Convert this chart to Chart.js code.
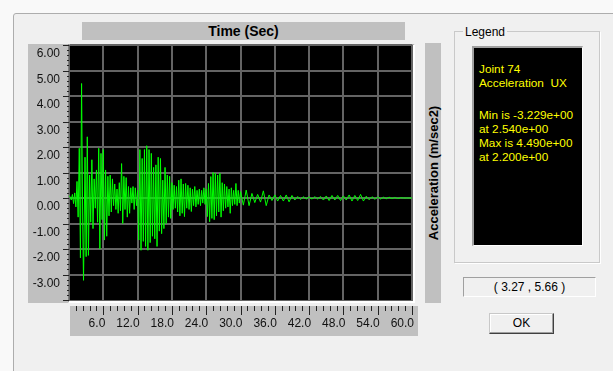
<!DOCTYPE html>
<html>
<head>
<meta charset="utf-8">
<title>Joint 74 Acceleration UX</title>
<script src="https://cdn.jsdelivr.net/npm/chart.js@4.4.1/dist/chart.umd.min.js"></script>
<style>
  html, body { margin: 0; padding: 0; }
  body {
    width: 613px; height: 371px; overflow: hidden; position: relative;
    background: #f9f9f9;
    font-family: "Liberation Sans", Arial, sans-serif; font-size: 12px; color: #000;
  }
  .abs { position: absolute; }
  #frame { left: 13px; top: 13px; width: 640px; height: 400px; border: 1px solid #adadad; border-radius: 3px; background: #f0f0f0; }
  #titleBar { left: 82px; top: 22px; width: 323px; height: 18px; background: #c0c0c0; text-align: center; font-weight: bold; font-size: 14px; line-height: 18px; }
  #yStrip { left: 28px; top: 44px; width: 41px; height: 259px; background: #c0c0c0; }
  #xStrip { left: 70px; top: 306px; width: 348px; height: 30px; background: #c0c0c0; }
  #plotBevel { left: 68px; top: 44px; width: 344px; height: 256px; background: #000; border-top: 1px solid #a0a0a0; border-left: 1px solid #808080; border-right: 2px solid #fff; border-bottom: 2px solid #fff; }
  #yTitle { left: 425px; top: 43px; width: 16px; height: 260px; background: #c0c0c0; }
  #yTitle span { position: absolute; left: 50%; top: 50%; transform: translate(-50%, -50%) rotate(-90deg); white-space: nowrap; font-weight: bold; font-size: 13px; }
  #legendBox { left: 454px; top: 31px; width: 144px; height: 230px; border: 1px solid #c9c9c9; box-shadow: 1px 1px 0 #fff; }
  #legendCap { left: 463px; top: 25px; padding: 0 2px; background: #f0f0f0; line-height: 14px; }
  #legendText { left: 472px; top: 46px; width: 108px; height: 197px; background: #000; border-top: 2px solid #a0a0a0; border-left: 2px solid #a0a0a0; border-right: 1px solid #fff; border-bottom: 1px solid #fff; color: #ffff00; font-size: 11.8px; line-height: 14px; }
  #legendText .blk { position: absolute; left: 5px; white-space: pre; }
  #coordBox { left: 463px; top: 277px; width: 131px; height: 18px; border-top: 1px solid #a0a0a0; border-left: 1px solid #a0a0a0; border-right: 1px solid #fff; border-bottom: 1px solid #fff; text-align: center; line-height: 18px; }
  #okBtn { left: 489px; top: 313px; width: 63px; height: 19px; background: #f0f0f0; border: 1px solid; border-color: #c8c8c8 #404040 #404040 #c8c8c8; box-shadow: inset -1px -1px #a0a0a0, inset 1px 1px #fff; text-align: center; line-height: 19px; }
  #plotWrap { left: 0; top: 0; width: 445px; height: 371px; z-index: 2; }
</style>
</head>
<body>
<div id="frame" class="abs"></div>
<div id="titleBar" class="abs">Time (Sec)</div>
<div id="yStrip" class="abs"></div>
<div id="xStrip" class="abs"></div>
<div id="plotBevel" class="abs"></div>
<div id="yTitle" class="abs"><span>Acceleration (m/sec2)</span></div>
<div id="legendBox" class="abs"></div>
<div id="legendCap" class="abs">Legend</div>
<div id="legendText" class="abs">
  <div class="blk" style="top:14px">Joint 74
Acceleration  UX</div>
  <div class="blk" style="top:60px">Min is -3.229e+00
at 2.540e+00
Max is 4.490e+00
at 2.200e+00</div>
</div>
<div id="coordBox" class="abs">( 3.27 , 5.66 )</div>
<div id="okBtn" class="abs">OK</div>
<div id="plotWrap" class="abs"><canvas id="thChart"></canvas></div>

<script>
// time history (sec, m/sec2)
const timeSec = [
  0.0, 0.2, 0.4, 0.6, 0.8, 1.0, 1.2, 1.4, 1.6, 1.8,
  2.0, 2.2, 2.4, 2.54, 2.8, 3.0, 3.2, 3.4, 3.6, 3.8,
  4.0, 4.2, 4.4, 4.6, 4.8, 5.0, 5.2, 5.4, 5.6, 5.8,
  6.0, 6.2, 6.4, 6.6, 6.8, 7.0, 7.2, 7.4, 7.6, 7.8,
  8.0, 8.2, 8.4, 8.6, 8.8, 9.0, 9.2, 9.4, 9.6, 9.8,
  10.0, 10.2, 10.4, 10.6, 10.8, 11.0, 11.2, 11.4, 11.6, 11.8,
  12.0, 12.2, 12.4, 12.6, 12.8, 13.0, 13.2, 13.4, 13.6, 13.8,
  14.0, 14.2, 14.4, 14.6, 14.8, 15.0, 15.2, 15.4, 15.6, 15.8,
  16.0, 16.2, 16.4, 16.6, 16.8, 17.0, 17.2, 17.4, 17.6, 17.8,
  18.0, 18.2, 18.4, 18.6, 18.8, 19.0, 19.2, 19.4, 19.6, 19.8,
  20.0, 20.2, 20.4, 20.6, 20.8, 21.0, 21.2, 21.4, 21.6, 21.8,
  22.0, 22.2, 22.4, 22.6, 22.8, 23.0, 23.2, 23.4, 23.6, 23.8,
  24.0, 24.2, 24.4, 24.6, 24.8, 25.0, 25.2, 25.4, 25.6, 25.8,
  26.0, 26.2, 26.4, 26.6, 26.8, 27.0, 27.2, 27.4, 27.6, 27.8,
  28.0, 28.2, 28.4, 28.6, 28.8, 29.0, 29.2, 29.4, 29.6, 29.8,
  30.0, 30.5, 31.0, 31.5, 32.0, 32.5, 33.0, 33.5, 34.0, 34.5,
  35.0, 35.5, 36.0, 36.5, 37.0, 37.5, 38.0, 38.5, 39.0, 39.5,
  40.0, 40.5, 41.0, 41.5, 42.0, 42.5, 43.0, 43.5, 44.0, 44.5,
  45.0, 45.5, 46.0, 46.5, 47.0, 47.5, 48.0, 48.5, 49.0, 49.5,
  50.0, 50.5, 51.0, 51.5, 52.0, 52.5, 53.0, 53.5, 54.0, 54.5,
  55.0, 55.5, 56.0, 56.5, 57.0, 57.5, 58.0, 58.5, 59.0, 59.5, 60.0
];
const accelUX = [
  0.10, 0.04, -0.08, 0.14, -0.22, 0.20, -0.35, 0.65, -0.75, 1.95,
  -2.35, 4.49, -1.10, -3.229, 1.60, -2.30, 2.40, -2.25, 0.90, -0.95,
  1.50, -1.20, 0.75, -0.40, 1.10, -0.95, 1.95, -2.00, 1.75, -0.85,
  1.90, -1.65, 1.10, -1.50, 0.85, -0.70, 0.90, -0.55, 0.75, -0.30,
  0.55, -0.45, 0.35, -0.60, 0.60, -0.50, 1.35, -1.00, 0.85, -0.45,
  0.80, -0.75, 0.45, -0.60, 0.40, -0.20, 0.45, -0.45, 0.40, -0.30,
  0.30, -1.65, 1.90, -2.05, 1.55, -1.70, 1.90, -1.90, 2.05, -2.05,
  1.90, -1.75, 1.75, -1.50, 1.20, -1.60, 1.30, -1.90, 1.60, -1.30,
  1.55, -1.40, 0.70, -1.20, 1.20, -1.00, 0.90, -0.75, 0.85, -0.80,
  0.60, -0.45, 0.50, -0.40, 0.45, -0.55, 0.70, -0.70, 0.75, -0.60,
  0.55, -0.73, 0.57, -0.40, 0.50, -0.45, 0.40, -0.53, 0.35, -0.30,
  0.45, -0.35, 0.30, -0.25, 0.35, -0.30, 0.30, -0.20, 0.40, -0.25,
  0.35, -0.73, 0.57, -0.93, 0.84, -0.80, 1.00, -0.85, 0.97, -0.70,
  0.90, -0.55, 0.97, -0.75, 0.60, -0.50, 0.55, -0.40, 0.45, -0.35,
  0.35, -0.60, 0.40, -0.30, 0.30, -0.25, 0.57, -0.30, 0.30, -0.20,
  0.25, -0.28, 0.31, -0.30, 0.18, -0.18, 0.14, -0.16, 0.28, -0.30,
  0.12, -0.10, 0.12, -0.12, 0.10, -0.12, 0.12, -0.15, 0.10, -0.08,
  0.06, -0.06, 0.05, -0.04, 0.04, -0.04, 0.05, -0.04, 0.06, -0.08,
  0.08, -0.10, 0.10, -0.08, 0.10, -0.10, 0.08, -0.08, 0.12, -0.12,
  0.10, -0.10, 0.14, -0.12, 0.07, -0.07, 0.05, -0.05, 0.04, -0.04,
  0.03, -0.03, 0.03, -0.02, 0.02, -0.02, 0.01, 0.00, 0.00, 0.00, 0.00
];

// axis ticks
const xTickValues = [6, 12, 18, 24, 30, 36, 42, 48, 54, 60];
const yTickValues = [6, 5, 4, 3, 2, 1, 0, -1, -2, -3];
const xMinorStep = 1.2;
const yMinorStep = 0.2;

const tickFont = { family: '"Liberation Sans", Arial, sans-serif', size: 12 };

// black plot area + the little tick marks on the grey strips
const sapTicks = {
  id: 'sapTicks',
  beforeDraw(chart) {
    const { ctx, chartArea: a } = chart;
    ctx.save();
    ctx.fillStyle = '#000';
    ctx.fillRect(a.left, a.top, a.right - a.left, a.bottom - a.top);
    ctx.restore();
  },
  afterDraw(chart) {
    const { ctx, chartArea: a, scales } = chart;
    ctx.save();
    ctx.strokeStyle = '#222';
    ctx.lineWidth = 1;
    ctx.beginPath();
    // x ticks
    for (let i = 1; i * xMinorStep <= scales.x.max + 0.001; i++) {
      const px = Math.round(scales.x.getPixelForValue(i * xMinorStep)) + 0.5;
      const len = (i % 5 === 0) ? 9 : 5;
      ctx.moveTo(px, a.bottom + 6);
      ctx.lineTo(px, a.bottom + 6 + len);
    }
    // y ticks
    for (let i = 0; scales.y.min + i * yMinorStep <= scales.y.max + 0.001; i++) {
      const py = Math.round(scales.y.getPixelForValue(scales.y.min + i * yMinorStep)) + 0.5;
      const len = (i % 5 === 0) ? 6 : 2;
      ctx.moveTo(a.left - len, py);
      ctx.lineTo(a.left, py);
    }
    ctx.stroke();
    ctx.restore();
  }
};

const ctx = document.getElementById('thChart').getContext('2d');

const thChart = new Chart(ctx, {
  type: 'line',
  data: {
    datasets: [{
      data: timeSec.map((t, i) => ({ x: t, y: accelUX[i] })),
      borderColor: '#00ff00',
      borderWidth: 1,
      pointRadius: 0,
      tension: 0,
      fill: false
    }]
  },
  options: {
    responsive: true,
    maintainAspectRatio: false,
    animation: false,
    events: [],
    layout: { padding: { left: 0, top: 45, right: 33, bottom: 0 } },
    plugins: {
      legend: { display: false },
      tooltip: { enabled: false }
    },
    scales: {
      x: {
        type: 'linear',
        position: 'bottom',
        min: 0,
        max: 60,
        afterBuildTicks: ax => { ax.ticks = xTickValues.map(v => ({ value: v })); },
        afterFit: ax => { ax.height = 71; },
        grid: { color: '#646464', lineWidth: 2, drawTicks: false },
        border: { color: '#646464' },
        ticks: {
          align: 'end',
          labelOffset: 2,
          padding: 16,
          autoSkip: false,
          maxRotation: 0,
          color: '#111',
          font: tickFont,
          callback: v => Number(v).toFixed(1)
        }
      },
      y: {
        type: 'linear',
        min: -4,
        max: 6,
        afterBuildTicks: ax => { ax.ticks = yTickValues.map(v => ({ value: v })); },
        afterFit: ax => { ax.width = 69; },
        grid: { color: '#646464', lineWidth: 2, drawTicks: false },
        border: { color: '#646464' },
        ticks: {
          labelOffset: 9,
          padding: 9,
          autoSkip: false,
          color: '#111',
          font: tickFont,
          callback: v => Number(v).toFixed(2)
        }
      }
    }
  },
  plugins: [sapTicks]
});
</script>
</body>
</html>
